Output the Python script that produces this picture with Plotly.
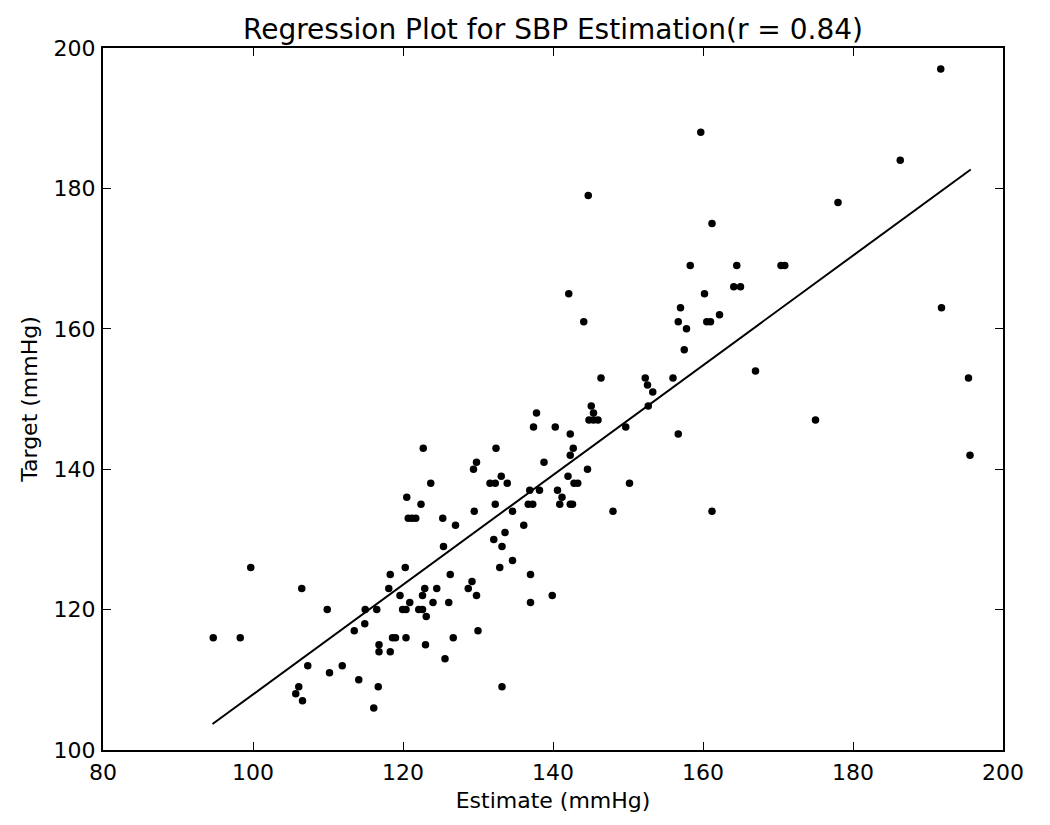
import plotly.graph_objects as go

estimate = [94.7, 98.3, 99.7, 106.5, 109.9, 107.3, 110.2, 111.9, 106.1, 105.7, 106.6, 114.1, 116.1, 116.7,
            113.5, 114.9, 114.96, 116.5, 116.8, 116.8, 118.3, 118.6, 119.0, 120.4, 118.1, 118.3, 120.3, 119.6,
            119.95, 120.4, 120.9, 122.7, 132.4, 142.7, 142.3, 129.8, 138.8, 129.4, 144.6, 133.1, 142.0, 123.7,
            131.6, 132.3, 133.9, 142.8, 143.3, 120.5, 136.9, 138.2, 140.6, 141.2, 122.4, 132.3, 136.7, 137.3,
            140.9, 142.3, 142.6, 120.7, 121.2, 121.7, 125.3, 129.5, 134.6, 127.0, 136.1, 133.6, 132.1, 125.4,
            133.2, 134.6, 132.9, 126.3, 137.0, 122.9, 124.5, 129.2, 128.7, 122.6, 129.8, 139.9, 124.0, 126.1,
            137.0, 122.1, 122.6, 123.1, 130.0, 126.7, 123.0, 125.6, 133.2, 167.0, 146.4, 152.3, 156.0, 152.6,
            153.3, 152.7, 145.1, 145.4, 144.8, 145.4, 146.0, 149.7, 156.7, 142.3, 150.2, 148.0, 161.2, 158.3,
            164.5, 164.1, 165.0, 142.1, 160.2, 157.0, 144.1, 156.7, 160.5, 161.0, 162.2, 157.8, 157.5, 159.7,
            186.3, 178.0, 161.2, 170.4, 170.9, 191.8, 195.4, 191.7, 144.7, 175.0, 195.6, 137.4, 137.8, 140.3]

target = [116, 116, 126, 123, 120, 112, 111, 112, 109, 108, 107, 110, 106, 109,
          117, 118, 120, 120, 115, 114, 114, 116, 116, 116, 123, 125, 126, 122,
          120, 120, 121, 143, 143, 143, 142, 141, 141, 140, 140, 139, 139, 138,
          138, 138, 138, 138, 138, 136, 137, 137, 137, 136, 135, 135, 135, 135,
          135, 135, 135, 133, 133, 133, 133, 134, 134, 132, 132, 131, 130, 129,
          129, 127, 126, 125, 125, 123, 123, 124, 123, 122, 122, 122, 121, 121,
          121, 120, 120, 119, 117, 116, 115, 113, 109, 154, 153, 153, 153, 152,
          151, 149, 149, 148, 147, 147, 147, 146, 145, 145, 138, 134, 134, 169,
          169, 166, 166, 165, 165, 163, 161, 161, 161, 161, 162, 160, 157, 188,
          184, 178, 175, 169, 169, 163, 153, 197, 179, 147, 142, 146, 148, 146]

fit_x = [94.6, 195.7]
fit_y = [103.7, 182.7]

title_text = "Regression Plot for SBP Estimation(r = 0.84)"
x_label = "Estimate (mmHg)"
y_label = "Target (mmHg)"

font_family = "DejaVu Sans"

fig = go.Figure()
fig.add_trace(go.Scatter(x=fit_x, y=fit_y, mode="lines",
                         line=dict(color="black", width=2), showlegend=False))
fig.add_trace(go.Scatter(x=estimate, y=target, mode="markers",
                         marker=dict(color="black", size=7.5, line=dict(width=0)),
                         showlegend=False))

axis_common = dict(showline=True, linecolor="black", linewidth=2, mirror="allticks",
                   ticks="inside", ticklen=8, tickwidth=1.2, tickcolor="black",
                   showgrid=False, zeroline=False, dtick=20,
                   tickfont=dict(family=font_family, size=22, color="black"))

fig.update_layout(
    width=1050, height=825,
    margin=dict(l=103, r=47, t=48, b=75),
    plot_bgcolor="white", paper_bgcolor="white",
    font=dict(family=font_family, color="black"),
    title=dict(text=title_text, x=553 / 1050, xanchor="center", y=1 - 29 / 825, yanchor="middle",
               font=dict(family=font_family, size=28, color="black")),
    xaxis=dict(range=[80, 200], ticklabelstandoff=2,
               title=dict(text=x_label, font=dict(size=22), standoff=8), **axis_common),
    yaxis=dict(range=[100, 200], ticklabelstandoff=1,
               title=dict(text=y_label, font=dict(size=22), standoff=10), **axis_common),
)

fig.write_html("out.html")
